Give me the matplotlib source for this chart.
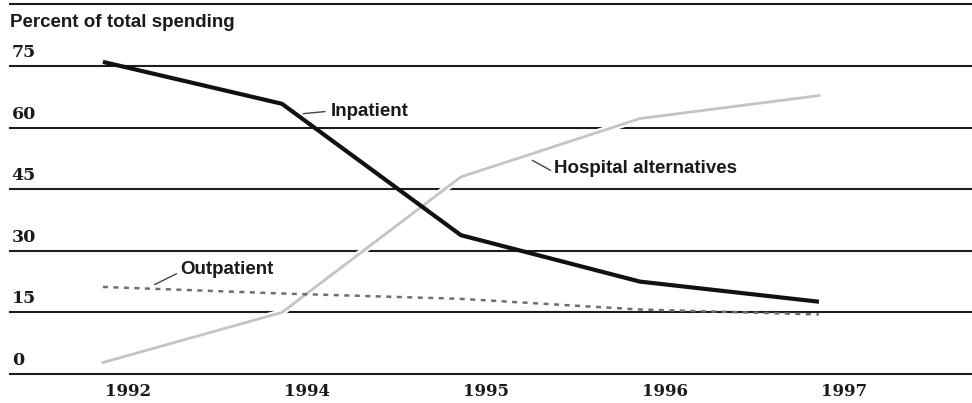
import matplotlib
matplotlib.use("Agg")
from matplotlib import pyplot as plt
import matplotlib.patheffects as pe

# data
years = ['1992', '1994', '1995', '1996', '1997']
inpatient = [76.0, 65.8, 33.8, 22.5, 17.6]
hospital_alt = [2.8, 15.0, 48.0, 62.2, 67.8]
outpatient = [21.2, 19.6, 18.3, 15.7, 14.5]
yticks = [0, 15, 30, 45, 60, 75]

x = list(range(len(years)))

fig = plt.figure(figsize=(9.72, 4.03), dpi=100)
ax = fig.add_axes([0, 0, 1, 1])
ax.set_xlim(-0.575, 4.855)
ax.set_ylim(-7.06, 91.07)
ax.axis('off')

# horizontal rules
left = 10 / 972
for v in yticks + [90]:
    ax.axhline(v, xmin=left, xmax=1, color='#1e1e1e', lw=1.5, zorder=1)

lab_font = ['Liberation Sans', 'DejaVu Sans']
num_font = ['DejaVu Serif']

for v in yticks:
    ax.text(-0.51, v + 1.2, str(v), fontsize=12.5, fontweight='bold',
            family=num_font, ha='left', va='bottom', color='#1a1a1a')

ax.text(-0.52, 85.5, 'Percent of total spending', fontsize=13.5, fontweight='bold',
        family=lab_font, ha='left', va='center', color='#1a1a1a')

for i, yr in zip(x, years):
    ax.text(i + 0.14, -4.3, yr, fontsize=12, fontweight='bold', family=num_font,
            ha='center', va='center', color='#1a1a1a')

ax.plot(x, hospital_alt, color='#c4c4c4', lw=2, zorder=3,
        path_effects=[pe.Stroke(linewidth=5, foreground='white'), pe.Normal()])
ax.plot(x, outpatient, color='#6e6e6e', lw=1.8, ls=(0, (2, 2.2)), zorder=4)
ax.plot(x, inpatient, color='#111111', lw=3, zorder=5, solid_capstyle='butt')

# labels with short leader lines
ax.plot([1.12, 1.24], [63.4, 63.9], color='#444444', lw=1, zorder=6)
ax.text(1.27, 64.0, 'Inpatient', fontsize=13.5, fontweight='bold', family=lab_font,
        ha='left', va='center', color='#1a1a1a')

ax.plot([2.4, 2.5], [52.0, 49.6], color='#444444', lw=1, zorder=6)
ax.text(2.52, 50.0, 'Hospital alternatives', fontsize=13.5, fontweight='bold',
        family=lab_font, ha='left', va='center', color='#1a1a1a')

ax.plot([0.29, 0.41], [21.8, 24.4], color='#444444', lw=1, zorder=6)
ax.text(0.43, 25.5, 'Outpatient', fontsize=13.5, fontweight='bold', family=lab_font,
        ha='left', va='center', color='#1a1a1a')

plt.savefig('out.png', dpi=100)
